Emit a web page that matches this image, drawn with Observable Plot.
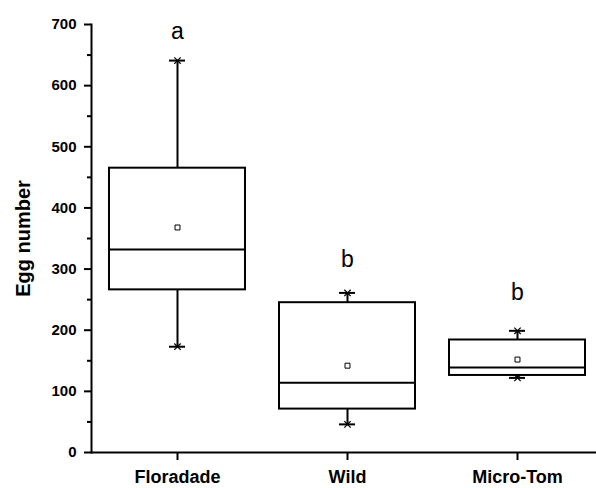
<!DOCTYPE html>
<html>
<head>
<meta charset="utf-8">
<script src="https://cdn.jsdelivr.net/npm/d3@7"></script>
<script src="https://cdn.jsdelivr.net/npm/@observablehq/plot@0.6"></script>
<style>
  html, body { margin: 0; padding: 0; background: #fff; }
  #chart svg { display: block; }
</style>
</head>
<body>
<div id="chart"></div>
<script>
const categories = ["Floradade", "Wild", "Micro-Tom"];
const whiskerLow = [173, 46, 122];
const q1 = [266, 71, 126];
const median = [332, 114, 139];
const q3 = [465, 245, 184];
const whiskerHigh = [641, 261, 199];
const mean = [368, 142, 152];
const letters = ["a", "b", "b"];
const letterY = [689, 315, 262];
const yTicks = [0, 100, 200, 300, 400, 500, 600, 700];
const yMinorTicks = [50, 150, 250, 350, 450, 550, 650];

const rows = categories.map((c, i) => ({
  cat: c, lo: whiskerLow[i], q1: q1[i], med: median[i], q3: q3[i],
  hi: whiskerHigh[i], mean: mean[i], letter: letters[i], ly: letterY[i]
}));

const font = "'Liberation Sans', Arial, Helvetica, sans-serif";

const chart = Plot.plot({
  width: 596,
  height: 488,
  marginTop: 24,
  marginBottom: 36,
  marginLeft: 91,
  marginRight: 0,
  style: { fontFamily: font, color: "black", background: "white", overflow: "visible" },
  x: { type: "band", domain: categories, range: [91, 603], paddingInner: 0.2, paddingOuter: 0.1 },
  y: { domain: [0, 700] },
  marks: [
    Plot.ruleX(rows, { x: "cat", y1: "lo", y2: "q1", stroke: "black", strokeWidth: 2 }),
    Plot.ruleX(rows, { x: "cat", y1: "q3", y2: "hi", stroke: "black", strokeWidth: 2 }),
    Plot.barY(rows, { x: "cat", y1: "q1", y2: "q3", fill: "white", stroke: "black", strokeWidth: 2 }),
    Plot.tickY(rows, { x: "cat", y: "med", stroke: "black", strokeWidth: 2 }),
    Plot.tickY(rows, { x: "cat", y: "lo", stroke: "black", strokeWidth: 2, insetLeft: 60, insetRight: 60 }),
    Plot.tickY(rows, { x: "cat", y: "hi", stroke: "black", strokeWidth: 2, insetLeft: 60, insetRight: 60 }),
    Plot.dot(rows, { x: "cat", y: "lo", symbol: "times", r: 3, stroke: "black", strokeWidth: 1.2 }),
    Plot.dot(rows, { x: "cat", y: "hi", symbol: "times", r: 3, stroke: "black", strokeWidth: 1.2 }),
    Plot.dot(rows, { x: "cat", y: "mean", symbol: "square", r: 2.8, fill: "white", stroke: "black", strokeWidth: 1 }),
    Plot.text(rows, { x: "cat", y: "ly", text: "letter", fontSize: 23, fill: "black" }),
    Plot.ruleY([0], { stroke: "black", strokeWidth: 2 }),
    Plot.frame({ anchor: "left", stroke: "black", strokeWidth: 2 }),
    Plot.axisY(yTicks, { tickSize: 7, tickPadding: 8, fontSize: 15, fontWeight: "bold", label: null, strokeWidth: 2 }),
    Plot.axisY(yMinorTicks, { tickSize: 4, tickFormat: () => "", label: null, strokeWidth: 2 }),
    Plot.axisY([], { label: "Egg number", labelAnchor: "center", labelOffset: 76, labelArrow: "none", fontSize: 20, fontWeight: "bold" }),
    Plot.axisX({ tickSize: 8, tickPadding: 10, fontSize: 18, fontWeight: "bold", label: null, strokeWidth: 2 })
  ]
});
document.getElementById("chart").append(chart);
</script>
</body>
</html>
